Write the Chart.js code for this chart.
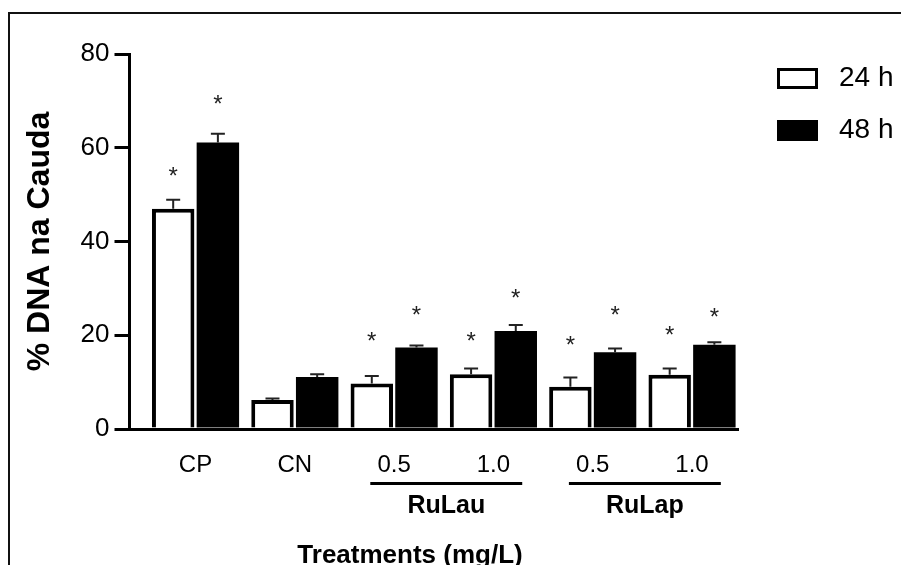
<!DOCTYPE html>
<html>
<head>
<meta charset="utf-8">
<script src="https://cdn.jsdelivr.net/npm/chart.js@4.4.1/dist/chart.umd.min.js"></script>
<style>
    html, body { margin: 0; padding: 0; background: #fff; }
    #wrap { position: relative; width: 901px; height: 565px; }
    #frame {
        position: absolute; left: 8px; top: 12px; right: 0; bottom: 0;
        border-top: 2px solid #111; border-left: 2px solid #111;
        pointer-events: none;
    }
</style>
</head>
<body>
<div id="wrap">
    <canvas id="chart"></canvas>
    <div id="frame"></div>
</div>
<script>
const categories = ["CP", "CN", "0.5", "1.0", "0.5", "1.0"];
const seriesLabels = ["24 h", "48 h"];

const values24h = [47.0, 6.2, 9.7, 11.7, 9.0, 11.6];
const values48h = [61.1, 11.1, 17.4, 20.9, 16.4, 18.0];
const errors24h = [1.9, 0.3, 1.6, 1.2, 2.0, 1.3];
const errors48h = [1.9, 0.6, 0.4, 1.3, 0.8, 0.5];

// height (in % units) where each significance star sits, null = no star
const stars24h = [54.7, null, 19.6, 19.5, 18.7, 20.8];
const stars48h = [70.2, null, 25.2, 28.7, 25.2, 24.7];

const groupNames = ["RuLau", "RuLap"];
const groupFirst = [2, 4];
const groupLast = [3, 5];

const yTicks = [0, 20, 40, 60, 80];

const FONT = '"Liberation Sans", Arial, Helvetica, sans-serif';
const FILLS = ["#ffffff", "#000000"];
const BORDERS = [4, 0];

const seriesValues = [values24h, values48h];
const seriesErrors = [errors24h, errors48h];
const seriesStars = [stars24h, stars48h];

Chart.defaults.font.family = FONT;
Chart.defaults.color = "#000";

const errorBars = {
    id: "errorBars",
    afterDatasetsDraw(chart) {
        const { ctx } = chart;
        const yScale = chart.scales.y;
        ctx.save();
        ctx.strokeStyle = "#222";
        ctx.fillStyle = "#222";
        ctx.lineWidth = 2;
        ctx.font = `24px ${FONT}`;
        ctx.textAlign = "center";
        ctx.textBaseline = "middle";
        chart.data.datasets.forEach((dataset, d) => {
            chart.getDatasetMeta(d).data.forEach((bar, i) => {
                const top = yScale.getPixelForValue(seriesValues[d][i] + seriesErrors[d][i]);
                ctx.beginPath();
                ctx.moveTo(bar.x, bar.y);
                ctx.lineTo(bar.x, top);
                ctx.moveTo(bar.x - 7, top);
                ctx.lineTo(bar.x + 7, top);
                ctx.stroke();
                const star = seriesStars[d][i];
                if (star !== null) {
                    ctx.fillText("*", bar.x, yScale.getPixelForValue(star) + 5);
                }
            });
        });
        ctx.restore();
    },
};

const annotations = {
    id: "annotations",
    afterDraw(chart) {
        const { ctx, chartArea } = chart;
        const xScale = chart.scales.x;
        ctx.save();
        ctx.fillStyle = "#000";
        ctx.strokeStyle = "#000";
        ctx.textAlign = "center";
        ctx.textBaseline = "alphabetic";

        // group brackets under the dose labels
        ctx.lineWidth = 3;
        ctx.font = `bold 25px ${FONT}`;
        groupNames.forEach((name, g) => {
            const x1 = xScale.getPixelForValue(groupFirst[g] - 0.24);
            const x2 = xScale.getPixelForValue(groupLast[g] + 0.29);
            const lineY = chartArea.bottom + 54.5;
            ctx.beginPath();
            ctx.moveTo(x1, lineY);
            ctx.lineTo(x2, lineY);
            ctx.stroke();
            ctx.fillText(name, (x1 + x2) / 2, chartArea.bottom + 84);
        });

        // x axis title
        ctx.font = `bold 26px ${FONT}`;
        ctx.fillText("Treatments (mg/L)", chartArea.left + 280.5, chartArea.bottom + 134);

        // legend
        ctx.textAlign = "left";
        ctx.textBaseline = "middle";
        ctx.font = `28px ${FONT}`;
        chart.data.datasets.forEach((dataset, d) => {
            const top = 68 + d * 52;
            ctx.fillStyle = dataset.backgroundColor;
            ctx.fillRect(777, top, 41, 21);
            ctx.lineWidth = 3;
            ctx.strokeStyle = dataset.borderColor;
            ctx.strokeRect(778.5, top + 1.5, 38, 18);
            ctx.fillStyle = "#000";
            ctx.fillText(dataset.label, 839, top + 10);
        });
        ctx.restore();
    },
};

new Chart(document.getElementById("chart"), {
    type: "bar",
    data: {
        datasets: seriesLabels.map((label, d) => ({
            label: label,
            data: seriesValues[d].map((value, i) => ({ x: i, y: value })),
            backgroundColor: FILLS[d],
            borderColor: "#000",
            borderWidth: BORDERS[d],
            categoryPercentage: 0.9,
            barPercentage: 0.95,
        })),
    },
    options: {
        responsive: true,
        maintainAspectRatio: false,
        animation: false,
        devicePixelRatio: 1,
        layout: { padding: { left: 21, top: 54, right: 163, bottom: 0 } },
        plugins: {
            legend: { display: false },
            tooltip: { enabled: false },
        },
        scales: {
            x: {
                type: "linear",
                offset: false,
                min: -0.665,
                max: 5.463,
                afterBuildTicks: (scale) => {
                    scale.ticks = categories.map((_, i) => ({ value: i }));
                },
                afterFit: (scale) => {
                    scale.height = 136;
                },
                ticks: {
                    autoSkip: false,
                    maxRotation: 0,
                    padding: 14,
                    font: { size: 24 },
                    color: "#000",
                    callback: (value) => categories[value],
                },
                grid: { display: false, offset: false },
                border: { display: true, color: "#000", width: 3 },
            },
            y: {
                min: 0,
                max: 80,
                afterBuildTicks: (scale) => {
                    scale.ticks = yTicks.map((value) => ({ value }));
                },
                afterFit: (scale) => {
                    scale.width = 108.5;
                },
                ticks: { padding: 5, font: { size: 26 }, color: "#000" },
                grid: {
                    drawOnChartArea: false,
                    drawTicks: true,
                    tickLength: 15,
                    color: "#000",
                    lineWidth: 3,
                },
                border: { display: true, color: "#000", width: 3 },
                title: {
                    display: true,
                    text: "% DNA na Cauda",
                    font: { size: 32, weight: "bold" },
                    color: "#000",
                    padding: 0,
                },
            },
        },
    },
    plugins: [errorBars, annotations],
});
</script>
</body>
</html>
